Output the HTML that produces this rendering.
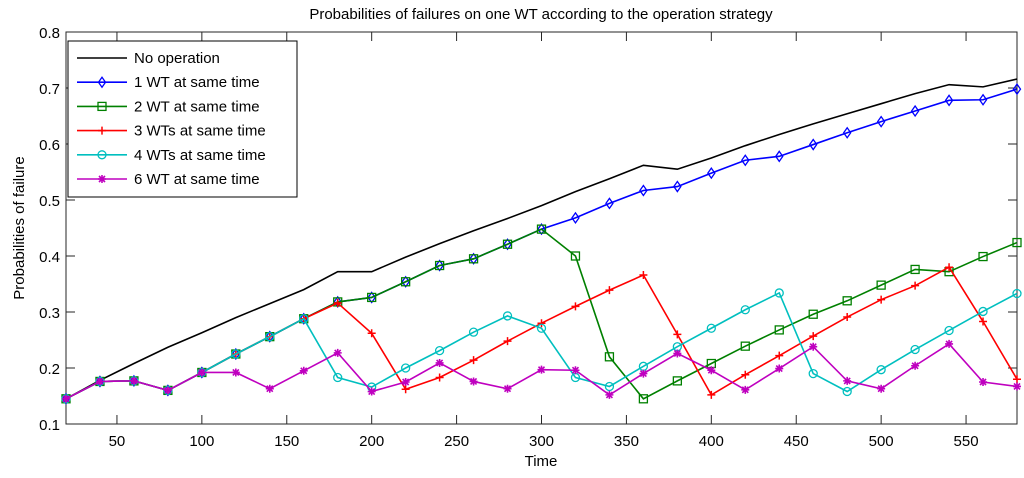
<!DOCTYPE html>
<html><head><meta charset="utf-8"><style>
html,body{margin:0;padding:0;background:#fff;}
svg{display:block;font-family:"Liberation Sans",Arial,sans-serif;}
</style></head><body>
<svg id="chart" width="1024" height="478">
<rect width="1024" height="478" fill="#fff"/>
<g id="plot"></g>
</svg>
<script>
const xs=[20,40,60,80,100,120,140,160,180,200,220,240,260,280,300,320,340,360,380,400,420,440,460,480,500,520,540,560,580];
const noOp=[0.145,0.178,0.208,0.237,0.263,0.29,0.315,0.34,0.372,0.372,0.398,0.422,0.445,0.467,0.49,0.515,0.538,0.562,0.555,0.575,0.597,0.617,0.636,0.654,0.672,0.69,0.706,0.702,0.716];
const wt1=[0.145,0.176,0.177,0.16,0.192,0.225,0.256,0.288,0.318,0.326,0.354,0.383,0.395,0.421,0.448,0.468,0.494,0.517,0.524,0.548,0.571,0.578,0.599,0.62,0.64,0.659,0.678,0.679,0.698];
const wt2=[0.145,0.176,0.177,0.16,0.192,0.225,0.256,0.288,0.318,0.326,0.354,0.383,0.395,0.421,0.448,0.4,0.22,0.145,0.177,0.208,0.239,0.268,0.296,0.32,0.348,0.376,0.372,0.399,0.424];
const wt3=[0.145,0.176,0.177,0.16,0.192,0.225,0.256,0.288,0.316,0.262,0.162,0.183,0.214,0.248,0.28,0.31,0.339,0.366,0.26,0.152,0.188,0.222,0.257,0.291,0.322,0.347,0.38,0.283,0.18];
const wt4=[0.145,0.176,0.177,0.16,0.192,0.225,0.256,0.288,0.183,0.166,0.2,0.231,0.264,0.293,0.271,0.183,0.167,0.203,0.238,0.271,0.304,0.334,0.19,0.158,0.197,0.233,0.267,0.301,0.333];
const wt6=[0.145,0.176,0.177,0.16,0.192,0.192,0.163,0.195,0.227,0.158,0.175,0.209,0.176,0.163,0.197,0.196,0.152,0.19,0.226,0.196,0.161,0.199,0.238,0.177,0.163,0.204,0.243,0.175,0.167];
const xTicks=[50,100,150,200,250,300,350,400,450,500,550];
const yTicks=[0.1,0.2,0.3,0.4,0.5,0.6,0.7,0.8];
const legendLabels=["No operation","1 WT at same time","2 WT at same time","3 WTs at same time","4 WTs at same time","6 WT at same time"];

const L=66,R=1017,T=32,B=424;
const X=v=>L+(v-20)/(580-20)*(R-L);
const Y=v=>B-(v-0.1)/(0.8-0.1)*(B-T);
const NS="http://www.w3.org/2000/svg";
const g=document.getElementById('plot');
function el(tag,attrs,parent){const e=document.createElementNS(NS,tag);for(const k in attrs)e.setAttribute(k,attrs[k]);(parent||g).appendChild(e);return e;}

const ax=el('rect',{x:L,y:T,width:R-L,height:B-T,fill:'#fff',stroke:'#262626','stroke-width':1});



xTicks.forEach(t=>{
  const x=X(t);
  el('line',{x1:x,x2:x,y1:B,y2:B-9,stroke:'#262626'});
  el('line',{x1:x,x2:x,y1:T,y2:T+9,stroke:'#262626'});
  const tx=el('text',{x:x,y:B+22,'text-anchor':'middle','font-size':15,fill:'#000'});
  tx.textContent=t;
  
  
});
yTicks.forEach(t=>{
  const y=Y(t);
  el('line',{x1:L,x2:L+9,y1:y,y2:y,stroke:'#262626'});
  el('line',{x1:R,x2:R-9,y1:y,y2:y,stroke:'#262626'});
  const tx=el('text',{x:L-6,y:y+6,'text-anchor':'end','font-size':15,fill:'#000'});
  tx.textContent=t.toFixed(1);
  
  
});
const ttl=el('text',{x:541,y:19,'text-anchor':'middle','font-size':15});
ttl.textContent="Probabilities of failures on one WT according to the operation strategy";


const xl=el('text',{x:541,y:466,'text-anchor':'middle','font-size':15});
xl.textContent="Time";


const yl=el('text',{x:0,y:0,'text-anchor':'middle','font-size':15,transform:'translate(24,228) rotate(-90)'});
yl.textContent="Probabilities of failure";



function marker(type,x,y,c,parent){
  if(type==='diamond')el('path',{d:`M${x} ${y-5}L${x+3.5} ${y}L${x} ${y+5}L${x-3.5} ${y}Z`,fill:'none',stroke:c,'stroke-width':1.3},parent);
  else if(type==='square')el('rect',{x:x-4,y:y-4,width:8,height:8,fill:'none',stroke:c,'stroke-width':1.3},parent);
  else if(type==='plus'){el('path',{d:`M${x-4} ${y}H${x+4}M${x} ${y-4}V${y+4}`,stroke:c,'stroke-width':1.5},parent);}
  else if(type==='circle')el('circle',{cx:x,cy:y,r:4,fill:'none',stroke:c,'stroke-width':1.3},parent);
  else if(type==='star'){el('path',{d:`M${x-4} ${y}H${x+4}M${x} ${y-4}V${y+4}M${x-3} ${y-3}L${x+3} ${y+3}M${x-3} ${y+3}L${x+3} ${y-3}`,stroke:c,'stroke-width':1.6},parent);}
}
const series=[
 {vals:noOp,c:'#000000',m:null,n:'series-no-operation'},
 {vals:wt1,c:'#0000ff',m:'diamond',n:'series-1-wt'},
 {vals:wt2,c:'#008000',m:'square',n:'series-2-wt'},
 {vals:wt3,c:'#ff0000',m:'plus',n:'series-3-wts'},
 {vals:wt4,c:'#00bfbf',m:'circle',n:'series-4-wts'},
 {vals:wt6,c:'#bf00bf',m:'star',n:'series-6-wt'}
];
series.forEach(s=>{
  const sg=el('g',{});
  
  
  el('polyline',{points:xs.map((x,i)=>X(x)+','+Y(s.vals[i])).join(' '),fill:'none',stroke:s.c,'stroke-width':1.6},sg);
  if(s.m)xs.forEach((x,i)=>marker(s.m,X(x),Y(s.vals[i]),s.c,sg));
});
// legend
const lg=el('g',{});


el('rect',{x:68,y:41,width:229,height:156,fill:'#fff',stroke:'#000'},lg);
legendLabels.forEach((lab,i)=>{
  const y=58+i*24.2,s=series[i];
  const eg=el('g',{},lg);
  
  
  el('line',{x1:77,x2:127,y1:y,y2:y,stroke:s.c,'stroke-width':1.6},eg);
  if(s.m)marker(s.m,102,y,s.c,eg);
  const t=el('text',{x:134,y:y+5,'font-size':15},eg);
  t.textContent=lab;
});
</script>
</body></html>
